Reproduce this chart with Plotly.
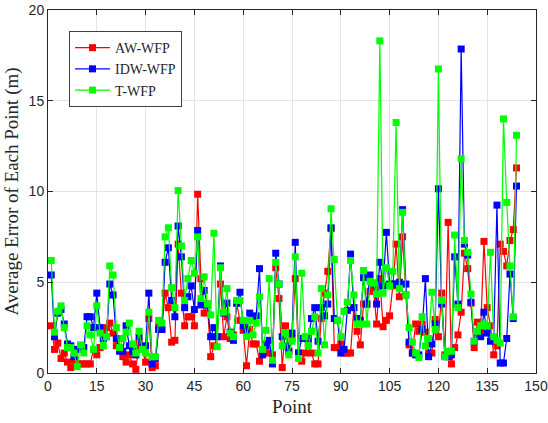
import plotly.graph_objects as go

points = list(range(1, 145))

aw_wfp = [2.6,1.3,1.65,0.8,1.1,0.6,0.3,0.7,0.5,0.5,
0.5,0.5,0.5,1.3,1.0,1.4,2.1,2.5,2.75,2.2,
1.5,1.4,0.9,0.6,1.0,0.5,0.2,1.7,1.3,0.6,
3.0,0.3,0.4,2.6,2.4,4.4,3.6,1.7,1.8,7.1,
4.4,2.6,3.1,3.1,2.6,9.85,5.2,3.3,3.8,0.9,
1.5,2.0,4.9,2.0,3.1,1.9,2.1,3.85,2.9,2.35,
0.4,2.4,1.6,1.6,0.65,1.2,1.6,1.1,1.0,5.8,
4.1,0.3,2.6,1.2,1.9,5.2,1.1,0.65,1.1,1.6,
1.1,0.5,0.5,3.0,4.4,5.6,7.95,1.4,1.4,1.6,
1.1,1.1,1.1,3.6,2.3,1.55,3.8,3.8,4.5,4.8,
2.7,5.2,2.55,2.9,3.15,4.8,7.1,4.2,7.5,4.3,
1.55,1.1,2.7,2.3,2.7,2.25,1.1,1.1,2.95,2.0,
4.4,1.0,8.3,0.5,1.4,2.1,3.35,6.6,5.75,3.85,
1.4,2.8,2.4,7.25,3.6,2.6,1.0,1.5,7.1,6.7,
5.9,7.3,7.9,11.3]

idw_wfp = [5.4,2.0,3.3,3.5,2.7,1.6,1.5,0.9,1.3,1.4,
1.4,3.1,3.1,2.5,4.4,2.5,1.9,2.0,4.9,4.3,
1.9,1.2,1.2,2.6,1.5,1.2,1.0,2.0,1.4,1.5,
4.4,0.5,0.8,2.4,2.4,6.1,6.9,4.0,3.1,8.1,
6.4,3.6,4.2,4.8,3.5,7.85,3.75,4.55,3.75,2.0,
2.5,2.0,5.9,3.3,3.85,2.25,1.8,3.85,4.45,2.6,
2.2,3.3,3.1,3.15,5.75,1.0,1.5,1.8,0.5,6.6,
4.9,2.0,1.5,1.2,2.2,7.2,1.1,1.9,1.9,1.9,
3.0,3.6,1.75,3.6,3.15,3.8,8.0,3.0,2.9,1.1,
1.3,3.45,6.55,3.6,3.0,2.9,5.25,3.8,5.4,4.95,
3.8,6.1,4.8,7.75,4.9,4.9,4.9,5.0,9.0,4.9,
1.7,1.1,1.0,1.0,2.4,5.2,0.9,1.6,2.7,10.15,
3.8,0.9,0.9,1.0,6.4,3.8,17.85,7.1,6.5,3.9,
1.75,2.1,2.0,3.35,2.2,1.75,1.9,9.25,0.55,0.55,
1.9,5.45,3.0,10.3]

t_wfp = [6.2,2.25,3.4,3.7,2.5,1.4,1.4,1.1,0.35,1.55,
1.1,2.6,2.1,1.3,3.7,2.2,1.5,2.0,5.9,5.4,
2.5,1.4,1.9,2.25,2.75,1.6,1.1,2.3,1.3,1.1,
3.35,0.9,0.9,2.9,2.75,7.5,8.0,4.7,3.6,10.05,
7.0,4.0,5.2,6.2,5.5,7.5,4.1,5.3,3.8,3.2,
7.7,1.45,5.8,3.35,4.65,2.2,2.0,4.0,4.0,2.9,
2.0,2.9,2.1,2.75,4.2,1.3,2.35,5.2,0.7,6.1,
4.9,1.5,2.2,1.0,1.75,6.4,0.8,5.5,2.0,1.5,
2.3,3.1,1.1,4.65,1.55,4.3,9.05,6.25,2.9,2.0,
3.4,3.9,6.2,4.3,2.7,2.7,5.65,2.7,5.05,4.95,
4.35,18.3,4.4,5.8,4.8,5.6,13.8,4.65,8.85,4.3,
2.5,1.7,1.1,0.85,3.1,1.5,1.9,4.45,2.4,16.75,
4.0,0.9,1.2,1.2,7.6,3.6,11.8,7.3,6.65,4.35,
1.75,2.3,2.6,2.7,2.6,6.65,2.0,1.8,1.65,14.0,
9.4,5.9,3.1,13.1]

series_names = ["AW-WFP", "IDW-WFP", "T-WFP"]
series_values = [aw_wfp, idw_wfp, t_wfp]
series_colors = ["#ff0000", "#0000ff", "#00ff00"]
x_ticks = list(range(0, 151, 15))
y_ticks = [0, 5, 10, 15, 20]

fig = go.Figure()
for name, vals, col in zip(series_names, series_values, series_colors):
    fig.add_trace(go.Scatter(
        x=points, y=vals, name=name, mode="lines+markers",
        line=dict(color=col, width=1.2),
        marker=dict(symbol="square", size=7, color=col),
    ))

axis_common = dict(
    showline=True, linecolor="#262626", linewidth=1, mirror="ticks",
    ticks="inside", ticklen=5, tickcolor="#262626",
    showgrid=True, gridcolor="#e3e3e3", gridwidth=1, zeroline=False,
    tickfont=dict(family="Liberation Sans", size=14, color="#262626"),
    automargin=False,
)

fig.update_xaxes(range=[0, 150], tickvals=x_ticks,
                 title=dict(text="Point", font=dict(family="Liberation Serif", size=19, color="#262626"), standoff=6),
                 **axis_common)
fig.update_yaxes(range=[0, 20], tickvals=y_ticks,
                 title=dict(text="Average Error of Each Point (m)", font=dict(family="Liberation Serif", size=19, color="#262626"), standoff=4),
                 **axis_common)

fig.update_layout(
    width=548, height=423,
    margin=dict(l=48, r=12, t=10, b=50),
    plot_bgcolor="white", paper_bgcolor="white",
    legend=dict(
        x=0.043, y=0.942, xanchor="left", yanchor="top",
        bgcolor="white", bordercolor="#404040", borderwidth=1,
        font=dict(family="Liberation Serif", size=14, color="#262626"),
        itemwidth=35, tracegroupgap=0,
    ),
    showlegend=True,
)

fig.write_html("out.html")
